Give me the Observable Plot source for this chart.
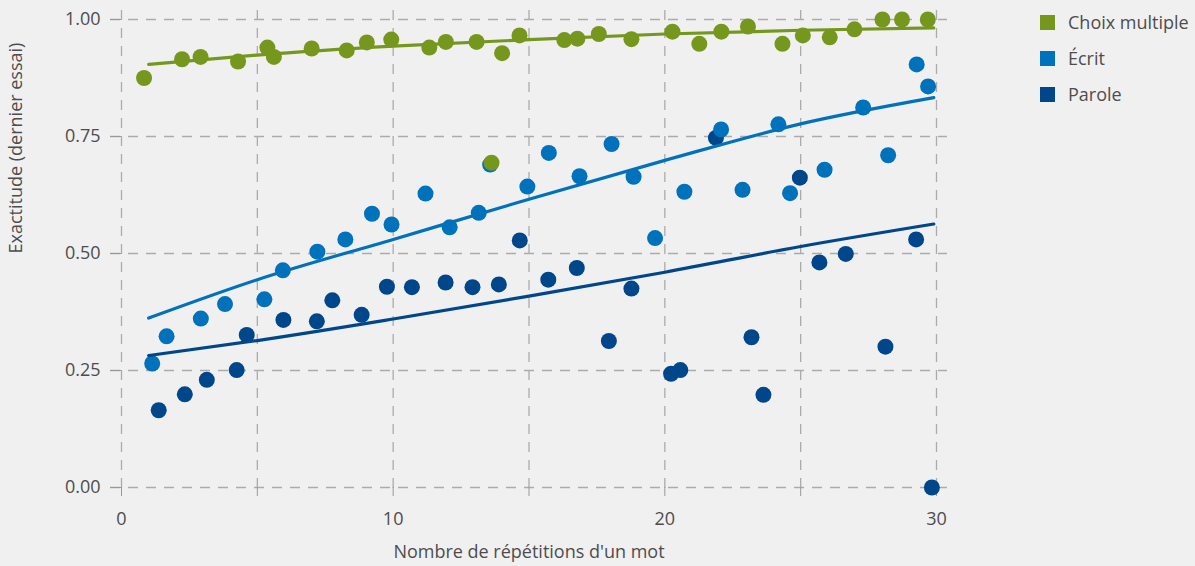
<!DOCTYPE html>
<html>
<head>
<meta charset="utf-8">
<script src="https://cdn.jsdelivr.net/npm/d3@7"></script>
<script src="https://cdn.jsdelivr.net/npm/@observablehq/plot@0.6"></script>
<style>
  html, body { margin: 0; padding: 0; background: #f0f0f0; }
  #wrap { position: relative; width: 1195px; height: 566px; font-family: "Open Sans", "Noto Sans", sans-serif; }
  #legend { position: absolute; left: 1040px; top: 4px; color: #4d4d4d; font-size: 18px; }
  #legend .row { display: flex; align-items: center; height: 36px; white-space: nowrap; }
  #legend .sw { width: 15px; height: 15px; margin-right: 13px; flex: none; }
</style>
</head>
<body>
<div id="wrap"><div id="legend"></div></div>
<script>
const seriesNames = ["Choix multiple", "Écrit", "Parole"];
const seriesColors = ["#76971e", "#0071bb", "#00468b"];

const choixX = [0.83,2.23,2.91,4.29,5.37,5.61,7.0,8.29,9.03,9.93,11.33,11.94,13.07,13.62,14.01,14.65,16.3,16.78,17.57,18.77,20.28,21.27,22.08,23.06,24.33,25.08,26.07,26.98,28.01,28.73,29.68];
const choixY = [0.875,0.915,0.92,0.91,0.94,0.92,0.938,0.934,0.951,0.957,0.94,0.952,0.952,0.694,0.928,0.966,0.956,0.959,0.969,0.958,0.974,0.948,0.974,0.985,0.948,0.966,0.962,0.979,1,1,1];

const ecritX = [1.13,1.66,2.92,3.81,5.26,5.94,7.21,8.24,9.22,9.94,11.19,12.08,13.15,13.57,14.94,15.73,16.86,18.04,18.85,19.64,20.72,22.07,22.86,24.18,24.61,25.88,27.3,28.22,29.27,29.69];
const ecritY = [0.265,0.323,0.361,0.392,0.402,0.464,0.504,0.53,0.585,0.562,0.628,0.556,0.587,0.69,0.643,0.715,0.665,0.734,0.664,0.533,0.632,0.765,0.636,0.776,0.629,0.679,0.812,0.71,0.904,0.857];

const paroleX = [1.37,2.33,3.14,4.24,4.61,5.96,7.19,7.76,8.84,9.77,10.69,11.93,12.92,13.89,14.66,15.71,16.76,17.94,18.77,20.23,20.57,21.88,23.19,23.63,24.97,25.69,26.66,28.12,29.25,29.83];
const paroleY = [0.165,0.199,0.23,0.251,0.326,0.358,0.355,0.4,0.369,0.429,0.428,0.438,0.428,0.434,0.528,0.444,0.469,0.313,0.425,0.243,0.251,0.747,0.321,0.198,0.662,0.481,0.499,0.301,0.53,0];

const fitX = [1, 5, 10, 15, 20, 25, 29.9];
const choixFit = [0.904,0.924,0.943,0.957,0.969,0.977,0.982];
const ecritFit = [0.362,0.444,0.53,0.616,0.699,0.777,0.833];
const paroleFit = [0.282,0.314,0.36,0.409,0.46,0.515,0.563];

const xGrid = [0,5,10,15,20,25,30];
const xLabels = [0,10,20,30];
const yTicks = [0,0.25,0.5,0.75,1];

const xTitle = "Nombre de répétitions d'un mot";
const yTitle = "Exactitude (dernier essai)";

function pts(name, xs, ys) { return xs.map((x, i) => ({series: name, x, y: ys[i]})); }
const points = [
  ...pts("Parole", paroleX, paroleY),
  ...pts("Écrit", ecritX, ecritY),
  ...pts("Choix multiple", choixX, choixY)
];
const fits = [
  ...pts("Parole", fitX, paroleFit),
  ...pts("Écrit", fitX, ecritFit),
  ...pts("Choix multiple", fitX, choixFit)
];

const chart = Plot.plot({
  width: 1195,
  height: 566,
  marginLeft: 121,
  marginRight: 259,
  marginTop: 19,
  marginBottom: 79,
  style: {background: "#f0f0f0", fontFamily: "'Open Sans', 'Noto Sans', sans-serif", fontSize: "18px", color: "#4d4d4d"},
  x: {domain: [0, 30]},
  y: {domain: [0, 1]},
  color: {domain: seriesNames, range: seriesColors},
  marks: [
    Plot.ruleY(yTicks, {stroke: "#ababab", strokeWidth: 1.3, strokeDasharray: "10,8", insetLeft: -11, insetRight: -11}),
    Plot.ruleX(xGrid, {stroke: "#ababab", strokeWidth: 1.3, strokeDasharray: "10,8", insetTop: -9, insetBottom: -9}),
    Plot.axisY({ticks: yTicks, tickFormat: d3.format(".2f"), tickSize: 11, tickPadding: 10, stroke: "#999", fill: "#4d4d4d", fontSize: 18, label: null}),
    Plot.axisX({ticks: xGrid, tickFormat: () => "", tickSize: 9, stroke: "#999", label: null}),
    Plot.axisX({ticks: xLabels, tickSize: 0, tickPadding: 25, fill: "#4d4d4d", fontSize: 18, label: null}),
    Plot.text([yTitle], {frameAnchor: "left", dx: -105, rotate: -90, fill: "#4d4d4d", fontSize: 18}),
    Plot.text([xTitle], {frameAnchor: "bottom", dy: 70, fill: "#4d4d4d", fontSize: 18}),
    Plot.dot(points, {x: "x", y: "y", fill: "series", r: 8, stroke: null}),
    Plot.line(fits, {x: "x", y: "y", z: "series", stroke: "series", strokeWidth: 3.2, curve: "monotone-x"})
  ]
});
document.getElementById("wrap").prepend(chart);

const legend = document.getElementById("legend");
seriesNames.forEach((n, i) => {
  const row = document.createElement("div");
  row.className = "row";
  const sw = document.createElement("div");
  sw.className = "sw";
  sw.style.background = seriesColors[i];
  const t = document.createElement("span");
  t.textContent = n;
  row.appendChild(sw);
  row.appendChild(t);
  legend.appendChild(row);
});
</script>
</body>
</html>
